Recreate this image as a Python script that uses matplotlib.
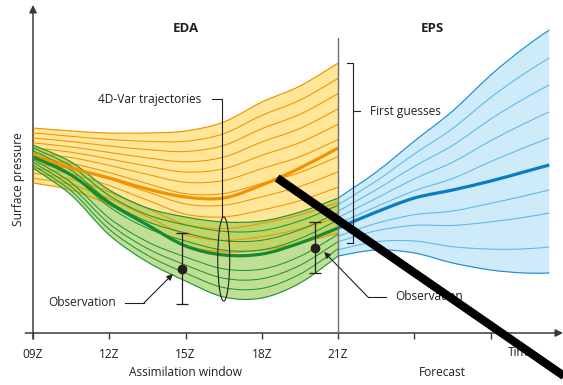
import matplotlib.pyplot as plt
from matplotlib.path import Path
from matplotlib.patches import PathPatch, Ellipse

# times in hours (09Z = 9), heights in arbitrary surface-pressure units
eda_t = [9, 10.5, 12, 13.5, 15, 16.5, 18, 19.5, 21]
fg_top = [205, 202, 200, 200, 202, 211, 231, 247, 270]
fg_mean = [178, 165, 155, 144, 136, 135, 148, 165, 185]
fg_bot = [150, 143, 128, 108, 88, 81, 83, 90, 100]
an_top = [188, 171, 143, 125, 116, 111, 112, 121, 135]
an_mean = [176, 158, 130, 108, 87, 78, 79, 90, 105]
an_bot = [165, 138, 98, 71, 52, 36, 35, 50, 77]

eps_t = [21, 22.5, 24, 25.5, 27, 28.3, 29.3]
eps_top = [135, 161, 192, 222, 258, 285, 303]
eps_mean = [105, 121, 135, 143, 152, 161, 168]
eps_bot = [77, 83, 80, 70, 63, 60, 60]

# position of each thin member inside the spread (0 = lower edge, 1 = upper edge)
fg_members = [0.09, 0.18, 0.27, 0.36, 0.45, 0.55, 0.64, 0.73, 0.82, 0.91]
an_members = [0.125, 0.25, 0.375, 0.625, 0.75, 0.875]
eps_members = [0.107, 0.247, 0.342, 0.556, 0.663, 0.774, 0.885]

obs_t = [14.85, 20.1]
obs_val = [64, 85]
obs_lo = [29, 60]
obs_hi = [100, 111]

tick_t = [9, 12, 15, 18, 21, 24, 27]
tick_lab = ["09Z", "12Z", "15Z", "18Z", "21Z", "", ""]

TEXT = "#231f20"
AXIS = "#3a3a3a"
ORANGE = "#f39200"
YELLOW = "#ffe699"
GREEN = "#1e9639"
LGREEN = "#8dc63f"
BLUE = "#1b8fd0"
LBLUE = "#cdebf9"
BLUE_THIN = "#5cb8e6"
BLUE_MEAN = "#0a7cc1"
FS = 8.6


def bezier(xs, ys):
    # Catmull-Rom through the read points, drawn as cubic Bezier segments
    p = list(zip(xs, ys))
    verts = [p[0]]
    codes = [Path.MOVETO]
    n = len(p)
    for i in range(n - 1):
        p0 = p[max(i - 1, 0)]
        p1 = p[i]
        p2 = p[i + 1]
        p3 = p[min(i + 2, n - 1)]
        c1 = (p1[0] + (p2[0] - p0[0]) / 6, p1[1] + (p2[1] - p0[1]) / 6)
        c2 = (p2[0] - (p3[0] - p1[0]) / 6, p2[1] - (p3[1] - p1[1]) / 6)
        verts += [c1, c2, p2]
        codes += [Path.CURVE4] * 3
    return verts, codes


def curve(ax, xs, ys, **kw):
    v, c = bezier(xs, ys)
    ax.add_patch(PathPatch(Path(v, c), fill=False, **kw))


def band(ax, xs, top, bot, **kw):
    v1, c1 = bezier(xs, top)
    v2, c2 = bezier(xs[::-1], bot[::-1])
    c2 = [Path.LINETO] + c2[1:]
    v = v1 + v2 + [v1[0]]
    c = c1 + c2 + [Path.CLOSEPOLY]
    ax.add_patch(PathPatch(Path(v, c), lw=0, **kw))


def ensemble(ax, xs, top, mean, bot, members, fill, fill_alpha, thin, edge, thick):
    band(ax, xs, top, bot, facecolor=fill, alpha=fill_alpha, zorder=2)
    for f in members:
        ys = [b + f * (t - b) for t, b in zip(top, bot)]
        curve(ax, xs, ys, edgecolor=thin, lw=0.75, zorder=3)
    curve(ax, xs, top, edgecolor=edge, lw=0.85, zorder=3)
    curve(ax, xs, bot, edgecolor=edge, lw=0.85, zorder=3)
    curve(ax, xs, mean, edgecolor=thick, lw=2.3, zorder=4)


def main() -> None:
    plt.rcParams.update({"font.family": ["Open Sans", "DejaVu Sans"]})

    fig = plt.figure(figsize=(5.63, 3.85), dpi=100, facecolor="white")
    ax = fig.add_axes([33 / 563, 52 / 385, 530 / 563, 328 / 385])
    ax.set_xlim(9, 29.84)
    ax.set_ylim(0, 328)
    for s in ax.spines.values():
        s.set_visible(False)
    ax.set_yticks([])
    ax.set_xticks(tick_t)
    ax.set_xticklabels(tick_lab)
    ax.tick_params(axis="x", length=4.5, width=1, color=AXIS, labelsize=FS,
                   labelcolor=TEXT, pad=6.5)

    # axes with arrow heads
    ax.annotate("", xy=(29.84, 0), xytext=(8.7, 0), annotation_clip=False,
                arrowprops=dict(arrowstyle="-|>", color=AXIS, lw=1.1,
                                mutation_scale=11, shrinkA=0, shrinkB=0))
    ax.annotate("", xy=(9, 328), xytext=(9, -6), annotation_clip=False,
                arrowprops=dict(arrowstyle="-|>", color=AXIS, lw=1.1,
                                mutation_scale=11, shrinkA=0, shrinkB=0))

    ensemble(ax, eda_t, fg_top, fg_mean, fg_bot, fg_members,
             YELLOW, 1.0, ORANGE, ORANGE, ORANGE)
    ensemble(ax, eda_t, an_top, an_mean, an_bot, an_members,
             LGREEN, 0.55, GREEN, GREEN, "#138a33")
    ensemble(ax, eps_t, eps_top, eps_mean, eps_bot, eps_members,
             LBLUE, 1.0, BLUE_THIN, BLUE, BLUE_MEAN)

    # end of assimilation window
    ax.plot([21, 21], [0, 295], color="#6d6e70", lw=1.0, zorder=5)

    # observations with error bars
    ax.errorbar(obs_t, obs_val,
                yerr=[[v - lo for v, lo in zip(obs_val, obs_lo)],
                      [hi - v for v, hi in zip(obs_val, obs_hi)]],
                fmt="o", color=TEXT, ms=6, elinewidth=0.9, capsize=4.5,
                capthick=0.9, zorder=6)

    # 4D-Var trajectories marker
    ax.add_patch(Ellipse((16.5, 74), 0.47, 84, fill=False, edgecolor=TEXT,
                         lw=0.8, zorder=6))
    ax.plot([16.04, 16.45, 16.45], [234, 234, 116], color=TEXT, lw=0.8, zorder=6)
    ax.text(15.6, 234, "4D-Var trajectories", ha="right", va="center",
            fontsize=FS, color=TEXT)

    # first guesses bracket
    ax.plot([21.35, 21.58, 21.58, 21.35], [270, 270, 90, 90], color=TEXT,
            lw=0.8, zorder=6)
    ax.plot([21.58, 21.86], [222, 222], color=TEXT, lw=0.8, zorder=6)
    ax.text(22.25, 222, "First guesses", ha="left", va="center",
            fontsize=FS, color=TEXT)

    # observation labels
    ax.text(10.95, 30, "Observation", ha="center", va="center", fontsize=FS,
            color=TEXT)
    ax.plot([12.62, 13.36], [30, 30], color=TEXT, lw=0.8, zorder=6)
    ax.annotate("", xy=(14.5, 59), xytext=(13.36, 30),
                arrowprops=dict(arrowstyle="-|>", color=TEXT, lw=0.8,
                                mutation_scale=9, shrinkA=0, shrinkB=0), zorder=6)
    ax.text(23.24, 36, "Observation", ha="left", va="center", fontsize=FS,
            color=TEXT)
    ax.plot([22.17, 22.88], [36, 36], color=TEXT, lw=0.8, zorder=6)
    ax.annotate("", xy=(20.45, 81), xytext=(22.17, 36),
                arrowprops=dict(arrowstyle="-|>", color=TEXT, lw=0.8,
                                mutation_scale=9, shrinkA=0, shrinkB=0), zorder=6)

    # section titles and axis labels
    ax.text(15, 305, "EDA", ha="center", va="center", fontsize=9.5,
            fontweight="bold", color=TEXT)
    ax.text(24.7, 305, "EPS", ha="center", va="center", fontsize=9.5,
            fontweight="bold", color=TEXT)
    ax.text(15, -40, "Assimilation window", ha="center", va="center",
            fontsize=FS, color=TEXT)
    ax.text(25.1, -40, "Forecast", ha="center", va="center", fontsize=FS,
            color=TEXT)
    ax.text(27.68, -20, "Time", ha="left", va="center", fontsize=FS, color=TEXT)
    ax.text(-0.028, 0.47, "Surface pressure", transform=ax.transAxes,
            rotation=90, ha="center", va="center", fontsize=FS, color=TEXT)

    # heavy diagonal stroke over the diagram
    ax.plot([18.6, 31.3], [155, -68], color="black", lw=6,
            solid_capstyle="butt", clip_on=False, zorder=10)

    fig.savefig("out.png", dpi=100, facecolor="white")


if __name__ == "__main__":
    main()
